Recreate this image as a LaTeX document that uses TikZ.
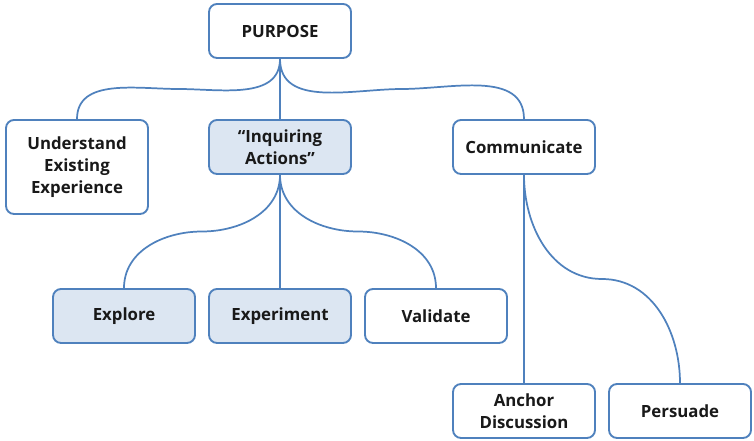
\documentclass[tikz,border=0pt]{standalone}
\usepackage{fontspec}
\setmainfont{Open Sans}
\usetikzlibrary{calc}
\definecolor{boxline}{HTML}{4F81BD}
\definecolor{boxfill}{HTML}{DCE6F2}
\begin{document}
\begin{tikzpicture}[x=0.75pt,y=-0.75pt,
    box/.style={draw=boxline,line width=1.4pt,rounded corners=6pt,fill=white,
      minimum width=106.5pt,minimum height=40.5pt,align=center,text=black!90,
      font=\bfseries\fontsize{12.6}{16.3}\selectfont},
    hilite/.style={box,fill=boxfill},
    link/.style={draw=boxline,line width=1.3pt}]
    \useasboundingbox (0,0) rectangle (754,441);
    \node[box] (purpose) at (280,31) {PURPOSE};
    \node[box,minimum height=70.5pt] (under) at (77,167) {Understand\\Existing\\Experience};
    \node[hilite] (inquire) at (280,147) {“Inquiring\\Actions”};
    \node[box] (commun) at (524,147) {Communicate};
    \node[hilite] (explore) at (124,316) {Explore};
    \node[hilite] (experi) at (280,316) {Experiment};
    \node[box] (valid) at (436,316) {Validate};
    \node[box] (anchor) at (524,411) {Anchor\\Discussion};
    \node[box] (persuade) at (680,411) {Persuade};
    % bends halfway between parent and child
    \coordinate (m1) at ($(purpose.south)!.5!(under.north)$);
    \coordinate (m2) at ($(purpose.south)!.5!(commun.north)$);
    \coordinate (m3) at ($(inquire.south)!.5!(explore.north)$);
    \coordinate (m4) at ($(inquire.south)!.5!(valid.north)$);
    \coordinate (m5) at ($(commun.south)!.5!(persuade.north)$);
    \draw[link] (purpose.south) to[out=-90,in=0] (m1) to[out=180,in=90] (under.north);
    \draw[link] (purpose.south) -- (inquire.north);
    \draw[link] (purpose.south) to[out=-90,in=180] (m2) to[out=0,in=90] (commun.north);
    \draw[link] (inquire.south) to[out=-90,in=0] (m3) to[out=180,in=90] (explore.north);
    \draw[link] (inquire.south) -- (experi.north);
    \draw[link] (inquire.south) to[out=-90,in=180] (m4) to[out=0,in=90] (valid.north);
    \draw[link] (commun.south) -- (anchor.north);
    \draw[link] (commun.south) to[out=-90,in=180] (m5) to[out=0,in=90] (persuade.north);
\end{tikzpicture}
\end{document}
